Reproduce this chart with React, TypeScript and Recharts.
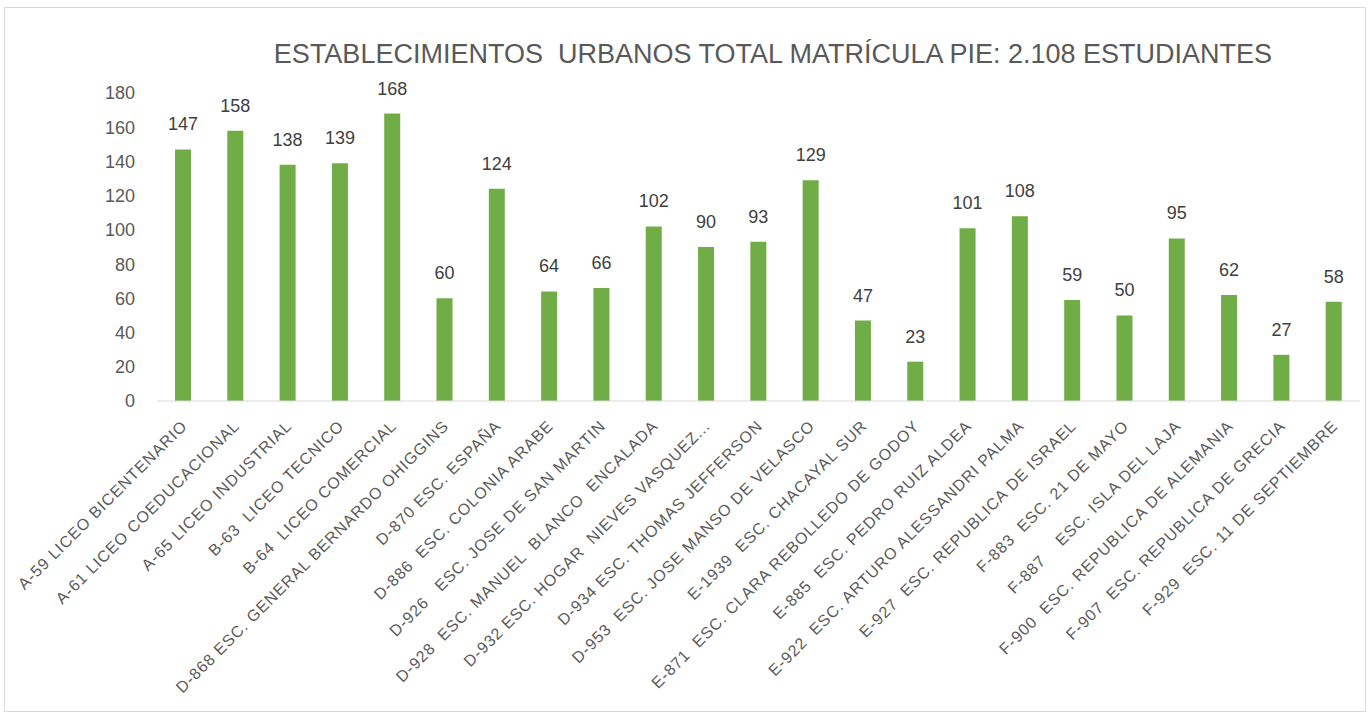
import { BarChart, Bar, XAxis, YAxis, LabelList } from "recharts";

const TITLE = "ESTABLECIMIENTOS  URBANOS TOTAL MATRÍCULA PIE: 2.108 ESTUDIANTES";

const escuelas = [
  "A-59 LICEO BICENTENARIO",
  "A-61 LICEO COEDUCACIONAL",
  "A-65 LICEO INDUSTRIAL",
  "B-63  LICEO TECNICO",
  "B-64  LICEO COMERCIAL",
  "D-868 ESC. GENERAL BERNARDO OHIGGINS",
  "D-870 ESC. ESPAÑA",
  "D-886  ESC. COLONIA ARABE",
  "D-926   ESC. JOSE DE SAN MARTIN",
  "D-928  ESC. MANUEL  BLANCO  ENCALADA",
  "D-932 ESC. HOGAR  NIEVES VASQUEZ...",
  "D-934 ESC. THOMAS JEFFERSON",
  "D-953  ESC. JOSE MANSO DE VELASCO",
  "E-1939  ESC. CHACAYAL SUR",
  "E-871  ESC. CLARA REBOLLEDO DE GODOY",
  "E-885  ESC. PEDRO RUIZ ALDEA",
  "E-922  ESC. ARTURO ALESSANDRI PALMA",
  "E-927  ESC. REPUBLICA DE ISRAEL",
  "F-883  ESC. 21 DE MAYO",
  "F-887    ESC. ISLA DEL LAJA",
  "F-900  ESC. REPUBLICA DE ALEMANIA",
  "F-907  ESC. REPUBLICA DE GRECIA",
  "F-929  ESC. 11 DE SEPTIEMBRE",
];

const matricula = [147, 158, 138, 139, 168, 60, 124, 64, 66, 102, 90, 93, 129, 47, 23, 101, 108, 59, 50, 95, 62, 27, 58];

const yTicks = [0, 20, 40, 60, 80, 100, 120, 140, 160, 180];

const data = escuelas.map((nombre, i) => ({ nombre, total: matricula[i] }));

const FONT = "'Liberation Sans', Arial, sans-serif";

function SchoolTick({ x, y, payload }: any) {
  const ax = x + 1;
  const ay = y + 14;
  return (
    <text
      x={ax}
      y={ay}
      transform={`rotate(-45, ${ax}, ${ay})`}
      textAnchor="end"
      dy="0.35em"
      fill="#595959"
      fontSize={16}
      letterSpacing={0.9}
      fontFamily={FONT}
      style={{ whiteSpace: "pre" }}
    >
      {payload.value}
    </text>
  );
}

export default function App() {
  return (
    <div
      style={{
        position: "absolute",
        left: 4,
        top: 7,
        width: 1360,
        height: 703,
        border: "1px solid #d9d9d9",
        background: "#fff",
        fontFamily: FONT,
      }}
    >
      <div
        style={{
          position: "absolute",
          left: 0,
          width: 1536,
          top: 31,
          textAlign: "center",
          fontSize: 27,
          color: "#595959",
          whiteSpace: "pre",
        }}
      >
        {TITLE}
      </div>
      <BarChart
        width={1360}
        height={703}
        data={data}
        margin={{ top: 85, right: 5, left: 0, bottom: 0 }}
        barCategoryGap={0}
      >
        <XAxis
          dataKey="nombre"
          interval={0}
          height={310}
          tickLine={false}
          axisLine={{ stroke: "#d9d9d9" }}
          tick={<SchoolTick />}
        />
        <YAxis
          width={152}
          domain={[0, 180]}
          ticks={yTicks}
          axisLine={false}
          tickLine={false}
          tickMargin={16}
          tick={{ fill: "#595959", fontSize: 18, fontFamily: FONT }}
        />
        <Bar dataKey="total" fill="#70ad47" barSize={16} isAnimationActive={false}>
          <LabelList dataKey="total" position="top" offset={19} fill="#404040" fontSize={18} fontFamily={FONT} />
        </Bar>
      </BarChart>
    </div>
  );
}
